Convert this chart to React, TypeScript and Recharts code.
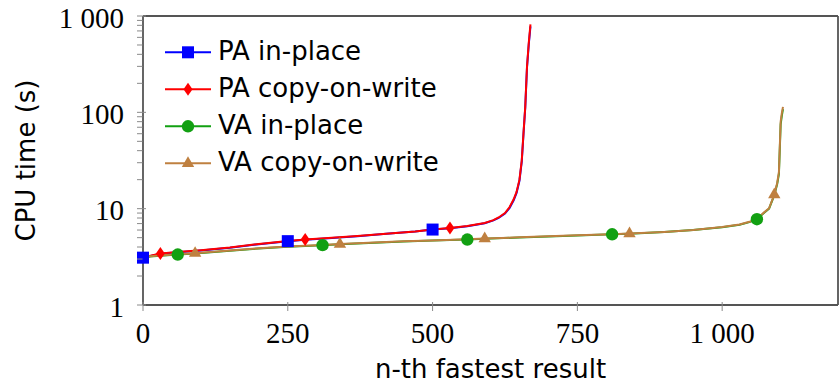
import React from 'react';
import { LineChart, Line, XAxis, YAxis, Legend } from 'recharts';

// ---------- data ----------
const paX = [0, 30, 60, 100, 150, 200, 250, 280, 320, 370, 420, 470, 500, 530, 560, 590, 605, 614, 625, 633, 640, 645, 650, 654, 657, 660, 663, 666, 669];
const paInPlaceY = [3.1, 3.4, 3.53, 3.68, 3.93, 4.27, 4.6, 4.76, 4.94, 5.18, 5.48, 5.78, 6.07, 6.28, 6.58, 7.05, 7.55, 8.0, 8.9, 10.2, 12.2, 14.6, 19.5, 31, 60, 112, 290, 500, 780];
const paCowY = [3.12, 3.42, 3.55, 3.7, 3.95, 4.3, 4.62, 4.78, 4.96, 5.2, 5.5, 5.8, 6.08, 6.3, 6.6, 7.1, 7.6, 8.1, 9.0, 10.4, 12.5, 14.9, 20, 31.8, 61, 114, 297, 520, 820];

const vaX = [0, 60, 90, 150, 200, 250, 310, 340, 400, 450, 500, 560, 590, 650, 700, 750, 810, 840, 900, 950, 1000, 1030, 1047, 1060, 1072, 1081, 1090, 1095, 1098, 1101, 1103, 1105];
const vaInPlaceY = [3.15, 3.34, 3.43, 3.66, 3.86, 4.02, 4.18, 4.27, 4.44, 4.56, 4.66, 4.78, 4.87, 5.02, 5.15, 5.27, 5.42, 5.5, 5.72, 6.0, 6.42, 6.82, 7.25, 7.77, 9.0, 10.0, 13.8, 18, 23, 75, 92, 108];
const vaCowY = [3.17, 3.36, 3.45, 3.68, 3.88, 4.04, 4.2, 4.29, 4.46, 4.58, 4.68, 4.8, 4.89, 5.04, 5.17, 5.29, 5.44, 5.52, 5.74, 6.02, 6.45, 6.86, 7.3, 7.82, 9.1, 10.1, 14.0, 18.5, 24, 80, 98, 114];

const paInPlaceMarks = [0, 250, 500];
const paCowMarks = [30, 280, 530];
const vaInPlaceMarks = [60, 310, 560, 810, 1060];
const vaCowMarks = [90, 340, 590, 840, 1090];

const xTicks = [0, 250, 500, 750, 1000];
const yMajor = [1, 10, 100, 1000];
const yMinor = [2, 3, 4, 5, 6, 7, 8, 9, 20, 30, 40, 50, 60, 70, 80, 90, 200, 300, 400, 500, 600, 700, 800, 900];

const seriesNames = ['PA in-place', 'PA copy-on-write', 'VA in-place', 'VA copy-on-write'];
const seriesColors = ['#0000ff', '#ff0000', '#12a012', '#bf8040'];
const seriesShapes = ['square', 'diamond', 'circle', 'triangle'];

const toPoints = (xs: number[], ys: number[]) => xs.map((x, i) => ({ x, y: ys[i] }));
const paInPlaceData = toPoints(paX, paInPlaceY);
const paCowData = toPoints(paX, paCowY);
const vaInPlaceData = toPoints(vaX, vaInPlaceY);
const vaCowData = toPoints(vaX, vaCowY);

// ---------- styles ----------
const FRAME = '#555555';
const TICK = '#8a8a8a';
const SERIF = '"Liberation Serif", "DejaVu Serif", serif';
const SANS = '"DejaVu Sans", sans-serif';

const fmt = (v: number) => (v >= 1000 ? String(v).replace(/(\d)(\d{3})$/, '$1 $2') : String(v));

function Marker({ shape, cx, cy, color }: { shape: string; cx: number; cy: number; color: string }) {
  if (shape === 'square') return <rect x={cx - 6} y={cy - 6} width={12} height={12} fill={color} />;
  if (shape === 'diamond')
    return <polygon points={`${cx},${cy - 6.5} ${cx + 4.5},${cy} ${cx},${cy + 6.5} ${cx - 4.5},${cy}`} fill={color} />;
  if (shape === 'circle') return <circle cx={cx} cy={cy} r={6.2} fill={color} />;
  return <polygon points={`${cx},${cy - 7} ${cx + 6.2},${cy + 3.6} ${cx - 6.2},${cy + 3.6}`} fill={color} />;
}

const makeDot = (marks: number[], shape: string, color: string) => (props: any) => {
  const { cx, cy, payload, index } = props;
  if (!payload || !marks.includes(payload.x) || cx == null || cy == null) return <g key={`d${index}`} />;
  return (
    <g key={`d${index}`}>
      <Marker shape={shape} cx={cx} cy={cy} color={color} />
    </g>
  );
};

// ---------- ticks ----------
const YTickLeft = (props: any) => {
  const { x, y, payload } = props;
  const v = payload.value;
  const major = yMajor.includes(v);
  return (
    <g>
      <line x1={x} x2={x + (major ? 9 : 5.5)} y1={y} y2={y} stroke={TICK} strokeWidth={1} />
      {major && (
        <text x={x - 13} y={y + 11.5} textAnchor="end" fontFamily={SERIF} fontSize={29} fill="#000">
          {fmt(v)}
        </text>
      )}
    </g>
  );
};

const YTickRight = (props: any) => {
  const { x, y, payload } = props;
  const major = yMajor.includes(payload.value);
  return <line x1={x} x2={x - (major ? 9 : 5.5)} y1={y} y2={y} stroke={TICK} strokeWidth={1} />;
};

const XTickBottom = (props: any) => {
  const { x, y, payload } = props;
  return (
    <g>
      <line x1={x} x2={x} y1={y} y2={y - 9} stroke={TICK} strokeWidth={1} />
      <text x={x} y={y + 31.5} textAnchor="middle" fontFamily={SERIF} fontSize={29} fill="#000">
        {fmt(payload.value)}
      </text>
    </g>
  );
};

const XTickTop = (props: any) => {
  const { x, y } = props;
  return <line x1={x} x2={x} y1={y} y2={y + 9} stroke={TICK} strokeWidth={1} />;
};

// ---------- labels ----------
const YLabel = (props: any) => {
  const vb = props.viewBox || { x: 0, y: 16, width: 143, height: 289 };
  const cx = vb.x + 35;
  const cy = vb.y + vb.height / 2;
  return (
    <text x={cx} y={cy} transform={`rotate(-90, ${cx}, ${cy})`} textAnchor="middle" fontFamily={SANS} fontSize={26} fill="#000">
      CPU time (s)
    </text>
  );
};

const XLabel = (props: any) => {
  const vb = props.viewBox || { x: 143, y: 305, width: 695, height: 78 };
  return (
    <text x={vb.x + vb.width / 2} y={vb.y + 73} textAnchor="middle" fontFamily={SANS} fontSize={26} fill="#000">
      n-th fastest result
    </text>
  );
};

// ---------- legend ----------
const LegendContent = () => (
  <svg width={300} height={170} style={{ display: 'block' }}>
    {seriesNames.map((name, i) => {
      const cy = 20.3 + 37 * i;
      return (
        <g key={name}>
          <line x1={5} x2={51} y1={cy} y2={cy} stroke={seriesColors[i]} strokeWidth={2} />
          <Marker shape={seriesShapes[i]} cx={28} cy={cy} color={seriesColors[i]} />
          <text x={58} y={cy + 7.5} fontFamily={SANS} fontSize={26} fill="#000">
            {name}
          </text>
        </g>
      );
    })}
  </svg>
);

export default function App() {
  return (
    <div style={{ position: 'absolute', left: 0, top: 0, width: 839, height: 383, background: '#fff' }}>
      <LineChart width={839} height={383} margin={{ top: 0, right: 0, bottom: 0, left: 0 }}>
        <XAxis
          xAxisId="b"
          type="number"
          dataKey="x"
          domain={[0, 1200]}
          ticks={xTicks}
          interval={0}
          height={78}
          orientation="bottom"
          axisLine={{ stroke: FRAME, strokeWidth: 1.8 }}
          tickLine={false}
          tickMargin={0}
          tick={<XTickBottom />}
          label={<XLabel />}
        />
        <XAxis
          xAxisId="t"
          type="number"
          dataKey="x"
          domain={[0, 1200]}
          ticks={xTicks}
          interval={0}
          height={16}
          orientation="top"
          axisLine={{ stroke: FRAME, strokeWidth: 1.8 }}
          tickLine={false}
          tickMargin={0}
          tick={<XTickTop />}
        />
        <YAxis
          yAxisId="l"
          type="number"
          scale="log"
          domain={[1, 1000]}
          ticks={[...yMajor, ...yMinor]}
          interval={0}
          width={143}
          orientation="left"
          axisLine={{ stroke: FRAME, strokeWidth: 1.8 }}
          tickLine={false}
          tickMargin={0}
          tick={<YTickLeft />}
          label={<YLabel />}
        />
        <YAxis
          yAxisId="r"
          type="number"
          scale="log"
          domain={[1, 1000]}
          ticks={[...yMajor, ...yMinor]}
          interval={0}
          width={1}
          orientation="right"
          axisLine={{ stroke: FRAME, strokeWidth: 1.8 }}
          tickLine={false}
          tickMargin={0}
          tick={<YTickRight />}
        />
        <Legend
          layout="vertical"
          align="center"
          verticalAlign="middle"
          wrapperStyle={{ left: 160, top: 32, width: 300, height: 170 }}
          content={<LegendContent />}
        />
        <Line
          xAxisId="b"
          yAxisId="l"
          data={paInPlaceData}
          dataKey="y"
          name={seriesNames[0]}
          type="linear"
          stroke={seriesColors[0]}
          strokeWidth={2}
          dot={makeDot(paInPlaceMarks, 'square', seriesColors[0])}
          activeDot={false}
          isAnimationActive={false}
        />
        <Line
          xAxisId="b"
          yAxisId="l"
          data={paCowData}
          dataKey="y"
          name={seriesNames[1]}
          type="linear"
          stroke={seriesColors[1]}
          strokeWidth={2}
          dot={makeDot(paCowMarks, 'diamond', seriesColors[1])}
          activeDot={false}
          isAnimationActive={false}
        />
        <Line
          xAxisId="b"
          yAxisId="l"
          data={vaInPlaceData}
          dataKey="y"
          name={seriesNames[2]}
          type="linear"
          stroke={seriesColors[2]}
          strokeWidth={2}
          dot={makeDot(vaInPlaceMarks, 'circle', seriesColors[2])}
          activeDot={false}
          isAnimationActive={false}
        />
        <Line
          xAxisId="b"
          yAxisId="l"
          data={vaCowData}
          dataKey="y"
          name={seriesNames[3]}
          type="linear"
          stroke={seriesColors[3]}
          strokeWidth={2}
          dot={makeDot(vaCowMarks, 'triangle', seriesColors[3])}
          activeDot={false}
          isAnimationActive={false}
        />
      </LineChart>
    </div>
  );
}
